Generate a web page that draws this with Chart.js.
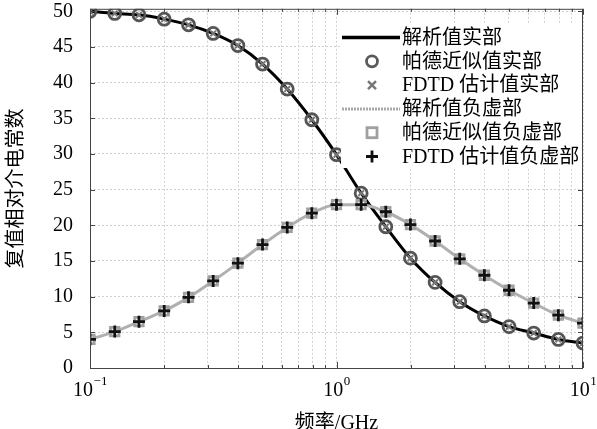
<!DOCTYPE html>
<html>
<head>
<meta charset="utf-8">
<script src="https://cdn.jsdelivr.net/npm/chart.js@4"></script>
<style>
  body { margin: 0; background: #fff; }
  canvas { display: block; }
</style>
</head>
<body>
<canvas id="debyeChart" width="597" height="429"></canvas>
<script>
// 频率点 (GHz)，每十倍频程 10 点
const freqGHz = [0.1, 0.126, 0.158, 0.2, 0.251, 0.316, 0.398, 0.501, 0.631, 0.794,
  1, 1.259, 1.585, 1.995, 2.512, 3.162, 3.981, 5.012, 6.31, 7.943, 10];
// 实部
const realPart = [50.0, 49.7, 49.5, 48.9, 48.1, 46.9, 45.2, 42.6, 39.1, 34.8,
  29.9, 24.5, 19.8, 15.4, 12.0, 9.3, 7.3, 5.8, 4.9, 4.0, 3.5];
// 负虚部
const negImagPart = [4.0, 5.1, 6.5, 8.0, 9.9, 12.2, 14.7, 17.3, 19.7, 21.7,
  22.9, 22.9, 21.9, 20.1, 17.8, 15.3, 13.0, 10.9, 9.1, 7.4, 6.3];
const yTicks = [0, 5, 10, 15, 20, 25, 30, 35, 40, 45, 50];
const xDecades = [0.1, 1, 10];
const xExponents = ['\u22121', '0', '1'];
const legendLabels = ['解析值实部', '帕德近似值实部', 'FDTD 估计值实部',
  '解析值负虚部', '帕德近似值负虚部', 'FDTD 估计值负虚部'];

const FONT = '"Liberation Serif", "Noto Sans CJK SC", serif';
const toXY = (ys) => freqGHz.map((f, i) => ({ x: f, y: ys[i] }));

// 外框 + 内向刻度（MATLAB 风格）+ 10^n 刻度标签
const boxPlugin = {
  id: 'box',
  afterDatasetsDraw(chart) {
    const { ctx, chartArea: a, scales } = chart;
    ctx.save();
    ctx.strokeStyle = '#444';
    ctx.lineWidth = 1;
    ctx.strokeRect(a.left + 0.5, a.top + 0.5, a.right - a.left - 1, a.bottom - a.top);
    ctx.beginPath();
    scales.x.ticks.forEach(t => {
      const px = Math.round(scales.x.getPixelForValue(t.value)) + 0.5;
      const len = xDecades.includes(t.value) ? 6 : 3;
      ctx.moveTo(px, a.bottom); ctx.lineTo(px, a.bottom - len);
      ctx.moveTo(px, a.top); ctx.lineTo(px, a.top + len);
    });
    yTicks.forEach(v => {
      const py = Math.round(scales.y.getPixelForValue(v)) + 0.5;
      ctx.moveTo(a.left, py); ctx.lineTo(a.left + 5, py);
      ctx.moveTo(a.right, py); ctx.lineTo(a.right - 5, py);
    });
    ctx.stroke();

    // 上标形式的十倍频程标签
    ctx.fillStyle = '#000';
    ctx.textBaseline = 'alphabetic';
    ctx.textAlign = 'left';
    xDecades.forEach((d, i) => {
      const px = scales.x.getPixelForValue(d);
      ctx.font = '20px ' + FONT;
      const wb = ctx.measureText('10').width;
      ctx.font = '13px ' + FONT;
      const we = ctx.measureText(xExponents[i]).width;
      const x0 = px - (wb + we) / 2;
      ctx.font = '20px ' + FONT;
      ctx.fillText('10', x0, 396);
      ctx.font = '13px ' + FONT;
      ctx.fillText(xExponents[i], x0 + wb + 0.5, 385);
    });
    ctx.restore();
  }
};

// 图例（图内右上，白底）
const legendPlugin = {
  id: 'customLegend',
  afterDraw(chart) {
    const { ctx } = chart;
    const row = 23.8, firstY = 37.5, mx = 372;
    ctx.save();
    ctx.fillStyle = '#fff';
    ctx.fillRect(341, 25, 241, 143);
    legendLabels.forEach((label, i) => {
      const y = firstY + i * row;
      ctx.setLineDash([]);
      if (i === 0) {
        ctx.strokeStyle = '#000'; ctx.lineWidth = 3.5;
        ctx.beginPath(); ctx.moveTo(342, y); ctx.lineTo(400, y); ctx.stroke();
      } else if (i === 1) {
        ctx.strokeStyle = '#5a5a5a'; ctx.lineWidth = 2.8;
        ctx.beginPath(); ctx.arc(mx, y, 5.5, 0, Math.PI * 2); ctx.stroke();
      } else if (i === 2) {
        ctx.strokeStyle = '#777'; ctx.lineWidth = 2.5;
        ctx.beginPath();
        ctx.moveTo(mx - 4, y - 4); ctx.lineTo(mx + 4, y + 4);
        ctx.moveTo(mx + 4, y - 4); ctx.lineTo(mx - 4, y + 4);
        ctx.stroke();
      } else if (i === 3) {
        ctx.strokeStyle = '#aaa'; ctx.lineWidth = 3;
        ctx.setLineDash([2, 1]);
        ctx.beginPath(); ctx.moveTo(342, y); ctx.lineTo(400, y); ctx.stroke();
        ctx.setLineDash([]);
      } else if (i === 4) {
        ctx.strokeStyle = '#a0a0a0'; ctx.lineWidth = 2.8;
        ctx.strokeRect(mx - 5, y - 5, 10, 10);
      } else {
        ctx.strokeStyle = '#111'; ctx.lineWidth = 2.8;
        ctx.beginPath();
        ctx.moveTo(mx - 6, y); ctx.lineTo(mx + 6, y);
        ctx.moveTo(mx, y - 6); ctx.lineTo(mx, y + 6);
        ctx.stroke();
      }
      ctx.fillStyle = '#000';
      ctx.font = '20px ' + FONT;
      ctx.textBaseline = 'middle';
      ctx.textAlign = 'left';
      ctx.fillText(label, 402, y + 1);
    });
    ctx.restore();
  }
};

const ctx = document.getElementById('debyeChart').getContext('2d');
const debyeChart = new Chart(ctx, {
  type: 'scatter',
  data: {
    datasets: [
      {
        label: legendLabels[0], data: toXY(realPart), showLine: true,
        borderColor: '#000', borderWidth: 3, pointRadius: 0,
        cubicInterpolationMode: 'monotone', order: 10
      },
      {
        label: legendLabels[3], data: toXY(negImagPart), showLine: true,
        borderColor: '#b0b0b0', borderWidth: 3, pointRadius: 0,
        cubicInterpolationMode: 'monotone', order: 9
      },
      {
        label: legendLabels[1], data: toXY(realPart), pointStyle: 'circle',
        pointRadius: 6, borderColor: '#555', borderWidth: 2.8,
        backgroundColor: 'rgba(0,0,0,0)', order: 5
      },
      {
        label: legendLabels[2], data: toXY(realPart), pointStyle: 'crossRot',
        pointRadius: 4, borderColor: '#777', borderWidth: 2,
        backgroundColor: 'rgba(0,0,0,0)', order: 4
      },
      {
        label: legendLabels[4], data: toXY(negImagPart), pointStyle: 'rect',
        pointRadius: 6, borderColor: '#a0a0a0', borderWidth: 2.8,
        backgroundColor: 'rgba(0,0,0,0)', order: 3
      },
      {
        label: legendLabels[5], data: toXY(negImagPart), pointStyle: 'cross',
        pointRadius: 6, borderColor: '#111', borderWidth: 2.8,
        backgroundColor: 'rgba(0,0,0,0)', order: 2
      }
    ]
  },
  options: {
    responsive: false,
    animation: false,
    layout: { padding: { top: 8, right: 14, left: 0, bottom: 0 } },
    scales: {
      x: {
        type: 'logarithmic',
        min: 0.1,
        max: 10,
        afterBuildTicks: (scale) => {
          const ticks = [];
          [0.1, 1].forEach(d => {
            for (let m = 1; m <= 9; m++) ticks.push({ value: +(d * m).toFixed(2) });
          });
          ticks.push({ value: 10 });
          scale.ticks = ticks;
        },
        afterFit: (scale) => {
          scale.height = 61;
          scale.paddingLeft = 0; scale.paddingRight = 0;
        },
        grid: { color: '#d0d0d0', lineWidth: 1, drawTicks: false },
        border: { display: false, dash: [2, 2] },
        ticks: {
          autoSkip: false,
          maxRotation: 0,
          padding: 12,
          font: { family: FONT, size: 20 },
          callback: () => ''
        },
        title: {
          display: true,
          text: '频率/GHz',
          color: '#000',
          font: { family: FONT, size: 20, lineHeight: 1 },
          padding: { top: 2, bottom: -5 }
        }
      },
      y: {
        min: 0,
        max: 50.35,
        afterBuildTicks: (scale) => { scale.ticks = yTicks.map(v => ({ value: v })); },
        afterFit: (scale) => {
          scale.width = 90;
          scale.paddingTop = 0; scale.paddingBottom = 0;
        },
        grid: { color: '#d0d0d0', lineWidth: 1, drawTicks: false },
        border: { display: false, dash: [2, 2] },
        ticks: {
          padding: 17,
          color: '#000',
          font: { family: FONT, size: 20 }
        },
        title: {
          display: true,
          text: '复值相对介电常数',
          color: '#000',
          font: { family: FONT, size: 20, lineHeight: 1 },
          padding: { top: 7, bottom: 0 }
        }
      }
    },
    plugins: {
      legend: { display: false },
      tooltip: { enabled: false }
    }
  },
  plugins: [boxPlugin, legendPlugin]
});
</script>
</body>
</html>
